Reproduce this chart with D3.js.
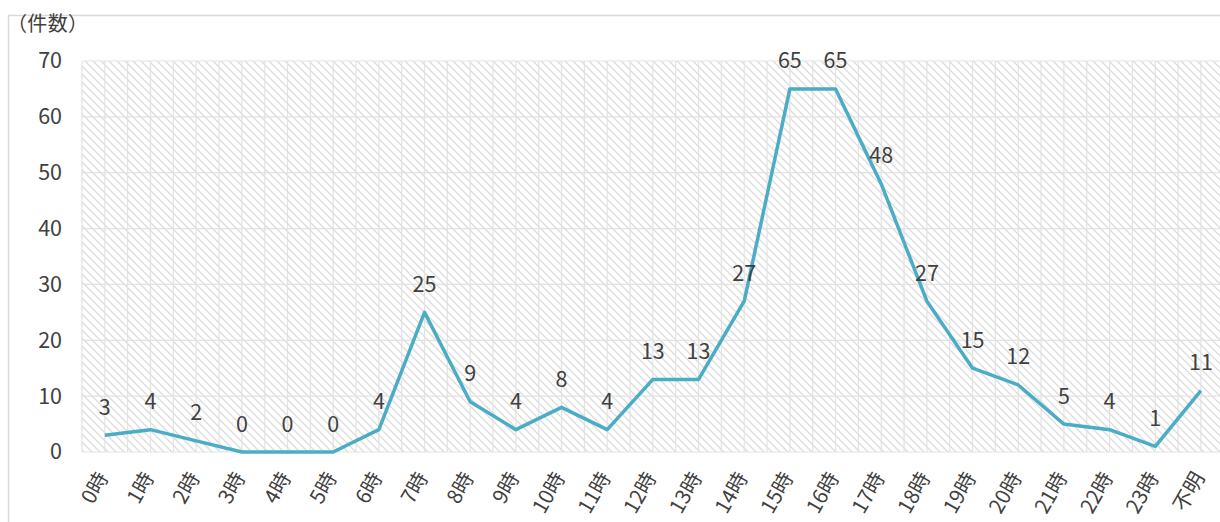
<!DOCTYPE html>
<html>
<head>
<meta charset="utf-8">
<script src="https://cdn.jsdelivr.net/npm/d3@7"></script>
<style>
  body { margin: 0; background: #fff; }
  text { font-family: "Noto Sans CJK JP", "Noto Sans", sans-serif; fill: #404040; }
</style>
</head>
<body>
<div id="chart"></div>
<script>
// hours of the day + unknown
var categories = ["0時","1時","2時","3時","4時","5時","6時","7時","8時","9時","10時","11時",
  "12時","13時","14時","15時","16時","17時","18時","19時","20時","21時","22時","23時","不明"];
var counts = [3,4,2,0,0,0,4,25,9,4,8,4,13,13,27,65,65,48,27,15,12,5,4,1,11];
var yTicks = [0,10,20,30,40,50,60,70];
var yTitle = "（件数）";

var width = 1220,
  height = 522,
  plot = {left: 82, top: 61, bottom: 452, step: 45.67},
  fontSize = "21.5px";

var svg = d3.select("#chart").append("svg")
  .attr("width", width)
  .attr("height", height);

// hatch fill like the excel plot area
var defs = svg.append("defs");
var pat = defs.append("pattern")
  .attr("id", "hatch")
  .attr("patternUnits", "userSpaceOnUse")
  .attr("width", 8)
  .attr("height", 8);
pat.append("rect").attr("width", 8).attr("height", 8).attr("fill", "#fff");
pat.append("path")
  .attr("d", "M-2,6 L2,10 M0,0 L8,8 M6,-2 L10,2")
  .attr("stroke", "#dcdcdc")
  .attr("stroke-width", 1.3);

// outer frame
svg.append("path")
  .attr("d", "M8.5," + height + " L8.5,15.5 L" + width + ",15.5")
  .attr("fill", "none")
  .attr("stroke", "#d9d9d9")
  .attr("stroke-width", 1.5);

var x = d3.scaleBand()
  .domain(categories)
  .range([plot.left, plot.left + plot.step * categories.length])
  .padding(0);

var y = d3.scaleLinear()
  .domain([0, 70])
  .range([plot.bottom, plot.top]);

var cx = function(c){ return x(c) + x.bandwidth() / 2; };

var plotRight = plot.left + plot.step * categories.length;

svg.append("rect")
  .attr("x", plot.left)
  .attr("y", plot.top)
  .attr("width", plotRight - plot.left)
  .attr("height", plot.bottom - plot.top)
  .attr("fill", "url(#hatch)");

// vertical grid: band edges and centres
var vLines = [];
categories.forEach(function(c){
  vLines.push(x(c));
  vLines.push(cx(c));
});
vLines.push(plotRight);

var grid = svg.append("g").attr("stroke", "#e3e3e3").attr("stroke-width", 1.2);
grid.selectAll("line.v")
  .data(vLines)
  .enter().append("line")
  .attr("class", "v")
  .attr("x1", function(d){ return d; })
  .attr("x2", function(d){ return d; })
  .attr("y1", plot.top)
  .attr("y2", plot.bottom);

grid.selectAll("line.h")
  .data(yTicks)
  .enter().append("line")
  .attr("class", "h")
  .attr("x1", plot.left)
  .attr("x2", plotRight)
  .attr("y1", function(d){ return y(d); })
  .attr("y2", function(d){ return y(d); });

// y axis labels
var yAxis = d3.axisLeft(y).tickValues(yTicks).tickSize(0).tickPadding(20);
var gy = svg.append("g")
  .attr("transform", "translate(" + plot.left + ",0)")
  .call(yAxis);
gy.select(".domain").remove();
gy.selectAll("text")
  .style("font-size", fontSize)
  .style("font-family", "\"Noto Sans CJK JP\", sans-serif")
  .attr("fill", "#595959");

// x axis labels, rotated
var gx = svg.append("g");
gx.selectAll("text")
  .data(categories)
  .enter().append("text")
  .attr("transform", function(d){
    return "translate(" + (cx(d) - 2) + "," + (plot.bottom + 22) + ") rotate(-60)";
  })
  .attr("text-anchor", "end")
  .attr("dy", "0.35em")
  .style("font-size", "20.5px")
  .attr("fill", "#595959")
  .text(function(d){ return d; });

// y title (full-width brackets)
svg.append("text")
  .attr("x", 7)
  .attr("y", 31)
  .attr("textLength", 81)
  .attr("lengthAdjust", "spacing")
  .style("font-size", "20px")
  .attr("fill", "#262626")
  .text(yTitle);

// line
var line = d3.line()
  .x(function(d, i){ return cx(categories[i]); })
  .y(function(d){ return y(d); });

svg.append("path")
  .datum(counts)
  .attr("d", line)
  .attr("fill", "none")
  .attr("stroke", "#4bacc6")
  .attr("stroke-width", 3.5)
  .attr("stroke-linejoin", "round");

// data labels above points
svg.append("g").selectAll("text")
  .data(counts)
  .enter().append("text")
  .attr("x", function(d, i){ return cx(categories[i]); })
  .attr("y", function(d){ return y(d) - 28; })
  .attr("dy", "0.35em")
  .attr("text-anchor", "middle")
  .style("font-size", fontSize)
  .attr("fill", "#404040")
  .text(function(d){ return d; });
</script>
</body>
</html>
